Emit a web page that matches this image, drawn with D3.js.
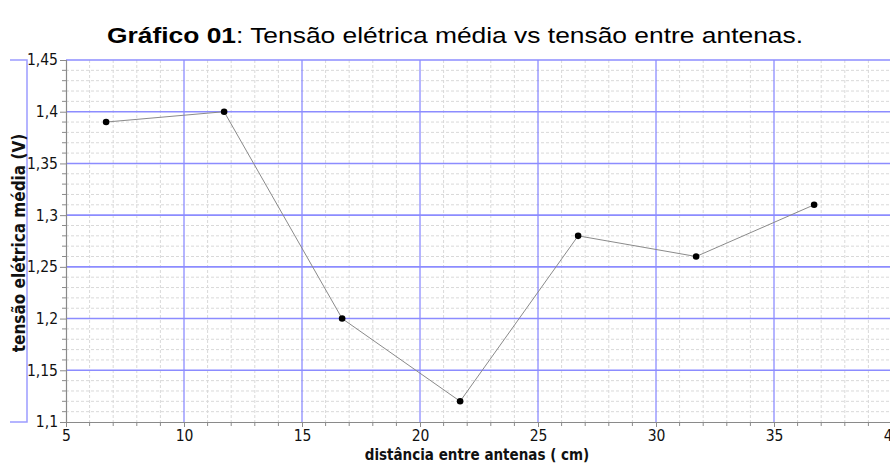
<!DOCTYPE html>
<html><head><meta charset="utf-8">
<script src="https://cdn.jsdelivr.net/npm/d3@7"></script>
<style>body{margin:0;background:#fff}svg{display:block}</style>
</head><body>
<svg id="c" width="890" height="464"></svg>
<script>
const xValues = [6.7, 11.7, 16.7, 21.7, 26.7, 31.7, 36.7];
const yValues = [1.39, 1.40, 1.20, 1.12, 1.28, 1.26, 1.31];
const xTicks = [5, 10, 15, 20, 25, 30, 35, 40];
const yTicks = [1.1, 1.15, 1.2, 1.25, 1.3, 1.35, 1.4, 1.45];
const xMinor = d3.range(5, 41, 1);
const yMinor = d3.range(110, 146, 1).map(v => v / 100);
const titleBold = "Gráfico 01";
const titleRest = ": Tensão elétrica média vs tensão entre antenas.";
const xTitle = "distância entre antenas ( cm)";
const yTitle = "tensão elétrica média (V)";

const svg = d3.select("#c");
const x = d3.scaleLinear().domain([5, 40]).range([66, 892]);
const y = d3.scaleLinear().domain([1.1, 1.45]).range([422, 60]);
const fmt = v => String(+v.toFixed(2)).replace(".", ",");
const tickFont = "'DejaVu Sans Condensed', 'DejaVu Sans', sans-serif";

// minor grid
const g = svg.append("g");
g.selectAll(".vm").data(xMinor.filter(v => v % 5 !== 0)).enter().append("line")
  .attr("x1", d => x(d)).attr("x2", d => x(d)).attr("y1", 60).attr("y2", 422)
  .attr("stroke", "#d9d9d9").attr("stroke-dasharray", "3,2").attr("stroke-width", 1);
g.selectAll(".hm").data(yMinor.filter(v => Math.round(v * 100) % 5 !== 0)).enter().append("line")
  .attr("x1", 66).attr("x2", 890).attr("y1", d => y(d)).attr("y2", d => y(d))
  .attr("stroke", "#d9d9d9").attr("stroke-dasharray", "3,2").attr("stroke-width", 1);
// major grid
g.selectAll(".vM").data(xTicks.filter(v => v > 5)).enter().append("line")
  .attr("x1", d => x(d)).attr("x2", d => x(d)).attr("y1", 60).attr("y2", 422)
  .attr("stroke", "#6a6aff").attr("stroke-width", 1);
g.selectAll(".hM").data(yTicks.filter(v => v > 1.1)).enter().append("line")
  .attr("x1", 66).attr("x2", 890).attr("y1", d => y(d)).attr("y2", d => y(d))
  .attr("stroke", "#8c8cff").attr("stroke-width", 1.6);

// left bracket
svg.append("path").attr("d", "M10,60H27V422H10").attr("fill", "none")
  .attr("stroke", "#9c9cff").attr("stroke-width", 1.5);

// axes
const yAxis = d3.axisLeft(y).tickValues(yTicks).tickFormat(fmt).tickSize(6).tickPadding(2);
const yAx = svg.append("g").attr("transform", "translate(66,0)").call(yAxis);
const xAxis = d3.axisBottom(x).tickValues(xTicks).tickFormat(d => d).tickSize(5).tickPadding(3);
const xAx = svg.append("g").attr("transform", "translate(0,422)").call(xAxis);
[yAx, xAx].forEach(a => {
  a.select(".domain").attr("stroke", "#8a8a8a").attr("stroke-width", 1.2);
  a.selectAll(".tick line").attr("stroke", "#8a8a8a");
  a.selectAll("text").attr("font-family", tickFont).attr("font-size", 15.5).attr("fill", "#111");
});
xAx.select(".domain").attr("d", "M66,0.5H890");
svg.append("g").selectAll("line").data(yMinor.filter(v => Math.round(v * 100) % 5 !== 0)).enter().append("line")
  .attr("x1", 62).attr("x2", 66).attr("y1", d => y(d)).attr("y2", d => y(d)).attr("stroke", "#8a8a8a");
svg.append("g").selectAll("line").data(xMinor.filter(v => v % 5 !== 0)).enter().append("line")
  .attr("x1", d => x(d)).attr("x2", d => x(d)).attr("y1", 422).attr("y2", 426).attr("stroke", "#8a8a8a");

// data
const pts = xValues.map((v, i) => [v, yValues[i]]);
svg.append("path").datum(pts).attr("fill", "none").attr("stroke", "#8a8a8a").attr("stroke-width", 1)
  .attr("d", d3.line().x(d => x(d[0])).y(d => y(d[1])));
svg.append("g").selectAll("circle").data(pts).enter().append("circle")
  .attr("cx", d => x(d[0])).attr("cy", d => y(d[1])).attr("r", 3.3).attr("fill", "#000");

// titles
const t = svg.append("text").attr("transform", "translate(455,43) scale(1.2,1)").attr("text-anchor", "middle")
  .attr("font-family", "'Liberation Sans', Arial, sans-serif").attr("font-size", 22).attr("fill", "#000");
t.append("tspan").attr("font-weight", "bold").text(titleBold);
t.append("tspan").text(titleRest);
svg.append("text").attr("x", 477).attr("y", 460).attr("text-anchor", "middle")
  .attr("font-family", tickFont).attr("font-weight", "bold").attr("font-size", 15).attr("fill", "#111")
  .text(xTitle);
svg.append("text").attr("transform", "translate(25,243) rotate(-90)").attr("text-anchor", "middle")
  .attr("font-family", tickFont).attr("font-weight", "bold").attr("font-size", 17).attr("fill", "#111")
  .text(yTitle);
</script>
</body></html>
